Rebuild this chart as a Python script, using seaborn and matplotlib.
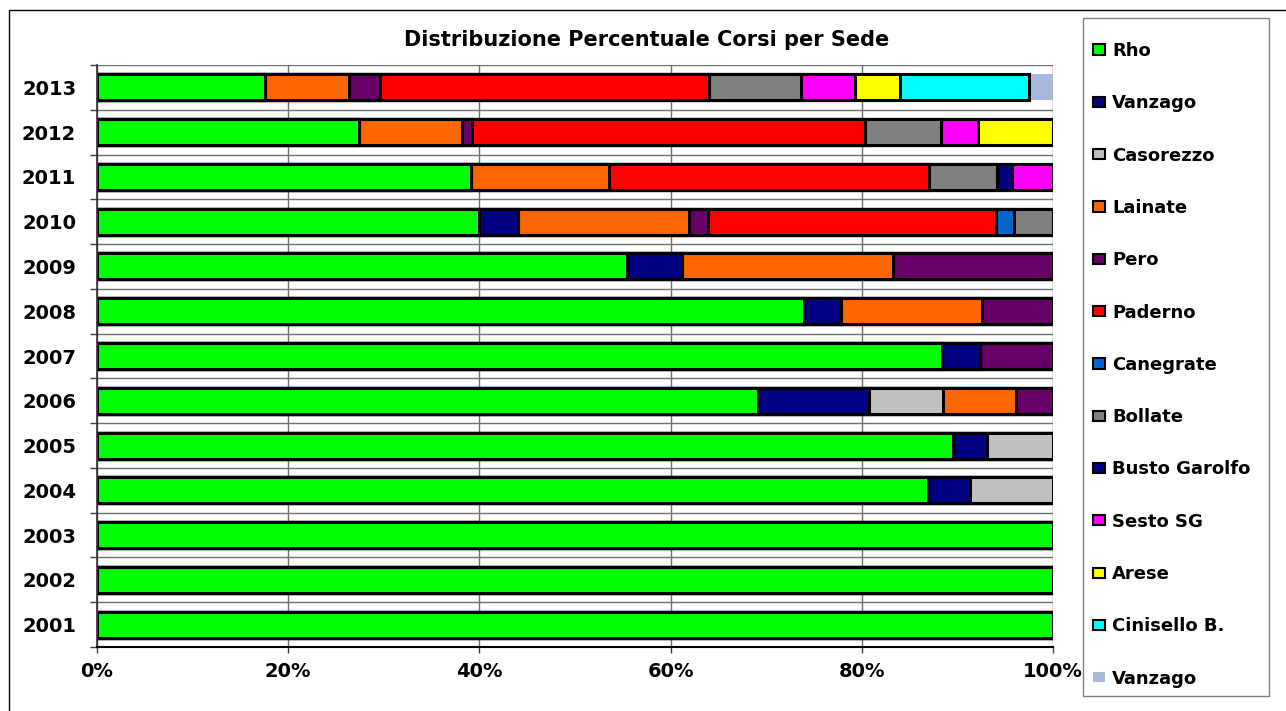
import numpy as np
import pandas as pd
import seaborn as sns
import matplotlib.pyplot as plt
from matplotlib.patches import Rectangle

# data (percent of courses per site, per year)
years = ['2013', '2012', '2011', '2010', '2009', '2008', '2007',
         '2006', '2005', '2004', '2003', '2002', '2001']
rho = [17.6, 27.4, 39.1, 40.0, 55.4, 74.0, 88.4, 69.1, 89.5, 86.9, 100, 100, 100]
vanzago = [0, 0, 0, 4.0, 5.8, 3.8, 4.0, 11.7, 3.6, 4.4, 0, 0, 0]
casorezzo = [0, 0, 0, 0, 0, 0, 0, 7.7, 6.9, 8.7, 0, 0, 0]
lainate = [8.8, 10.8, 14.5, 17.9, 22.1, 14.8, 0, 7.6, 0, 0, 0, 0, 0]
pero = [3.2, 1.0, 0, 2.0, 16.7, 7.4, 7.6, 3.9, 0, 0, 0, 0, 0]
paderno = [34.4, 41.1, 33.4, 30.1, 0, 0, 0, 0, 0, 0, 0, 0, 0]
canegrate = [0, 0, 0, 1.9, 0, 0, 0, 0, 0, 0, 0, 0, 0]
bollate = [9.6, 8.0, 7.1, 4.1, 0, 0, 0, 0, 0, 0, 0, 0, 0]
busto = [0, 0, 1.6, 0, 0, 0, 0, 0, 0, 0, 0, 0, 0]
sesto = [5.7, 3.9, 4.3, 0, 0, 0, 0, 0, 0, 0, 0, 0, 0]
arese = [4.7, 7.8, 0, 0, 0, 0, 0, 0, 0, 0, 0, 0, 0]
cinisello = [13.5, 0, 0, 0, 0, 0, 0, 0, 0, 0, 0, 0, 0]
vanzago2 = [2.5, 0, 0, 0, 0, 0, 0, 0, 0, 0, 0, 0, 0]

names = ['Rho', 'Vanzago', 'Casorezzo', 'Lainate', 'Pero', 'Paderno', 'Canegrate',
         'Bollate', 'Busto Garolfo', 'Sesto SG', 'Arese', 'Cinisello B.', 'Vanzago']
series = [rho, vanzago, casorezzo, lainate, pero, paderno, canegrate,
          bollate, busto, sesto, arese, cinisello, vanzago2]
colors = ['#00FF00', '#000080', '#C0C0C0', '#FF6600', '#660066', '#FF0000', '#0066CC',
          '#808080', '#000080', '#FF00FF', '#FFFF00', '#00FFFF', '#A9B9D9']

sns.set_style("white")
plt.rcParams['font.family'] = ['DejaVu Sans']
plt.rcParams['font.weight'] = 'bold'
plt.rcParams['text.color'] = 'black'

fig = plt.figure(figsize=(12.86, 7.11), dpi=100)
ax = fig.add_axes([97/1286, 1-647/711, (1053-97)/1286, (647-65)/711])

cum = np.cumsum(np.array(series), axis=0)
# draw cumulative totals from last to first so earlier series sit on top
for i in range(len(series)-1, -1, -1):
  df = pd.DataFrame({'year': years, 'val': cum[i]})
  last = (i == len(series)-1)
  sns.barplot(data=df, x='val', y='year', order=years, orient='h', ax=ax,
              color=colors[i], saturation=1, width=0.58,
              edgecolor='none' if last else 'black', linewidth=0 if last else 2.2)

ax.set_xlim(0, 100)
ax.set_ylim(12.5, -0.5)
ax.set_xlabel('')
ax.set_ylabel('')
ax.set_xticks(np.arange(0, 101, 20))
ax.set_xticklabels([f'{v}%' for v in range(0, 101, 20)], fontsize=14, fontweight='bold')
ax.set_yticks(range(len(years)))
ax.set_yticklabels(years, fontsize=14, fontweight='bold')
ax.set_yticks(np.arange(-0.5, 13, 1), minor=True)
ax.tick_params(axis='y', which='major', length=0, pad=15, labelcolor='black')
ax.tick_params(axis='y', which='minor', length=5, width=1, color='#404040', direction='out', left=True)
ax.tick_params(axis='x', which='major', length=4, width=1, color='#404040', direction='out',
               bottom=True, pad=7, labelcolor='black')
ax.grid(False)
ax.grid(which='minor', axis='y', color='#707070', linewidth=1)
ax.grid(which='major', axis='x', color='#707070', linewidth=1)
ax.set_axisbelow(True)
for s in ['top', 'right']:
  ax.spines[s].set_visible(False)
ax.spines['left'].set_color('#303030')
ax.spines['left'].set_linewidth(1.2)
ax.spines['bottom'].set_color('black')
ax.spines['bottom'].set_linewidth(1.5)

fig.text(647/1286, 1-40/711, 'Distribuzione Percentuale Corsi per Sede', fontsize=15,
         fontweight='bold', color='black', ha='center', va='center')

# legend on the right, frame drawn separately
handles = []
for i, c in enumerate(colors):
  last = (i == len(colors)-1)
  handles.append(Rectangle((0, 0), 1, 1, facecolor=c,
                           edgecolor='none' if last else 'black', linewidth=0 if last else 1.5))
leg = fig.legend(handles, names, loc='upper left', bbox_to_anchor=(1093/1286, 1-42/711),
                 prop={'weight': 'bold', 'size': 13}, frameon=False,
                 handlelength=0.65, handleheight=0.5, handletextpad=0.4, labelspacing=1.9,
                 borderpad=0, borderaxespad=0)
for t in leg.get_texts():
  t.set_color('black')
fig.add_artist(Rectangle((1083/1286, 1-696/711), (1269-1083)/1286, (696-18)/711,
                         transform=fig.transFigure, fill=False, edgecolor='#808080', linewidth=1))

# outer chart border
fig.add_artist(Rectangle((9/1286, -0.1), 1.2, 1-10/711+0.1, transform=fig.transFigure,
                         fill=False, edgecolor='black', linewidth=1))

fig.savefig('out.png', dpi=100)
